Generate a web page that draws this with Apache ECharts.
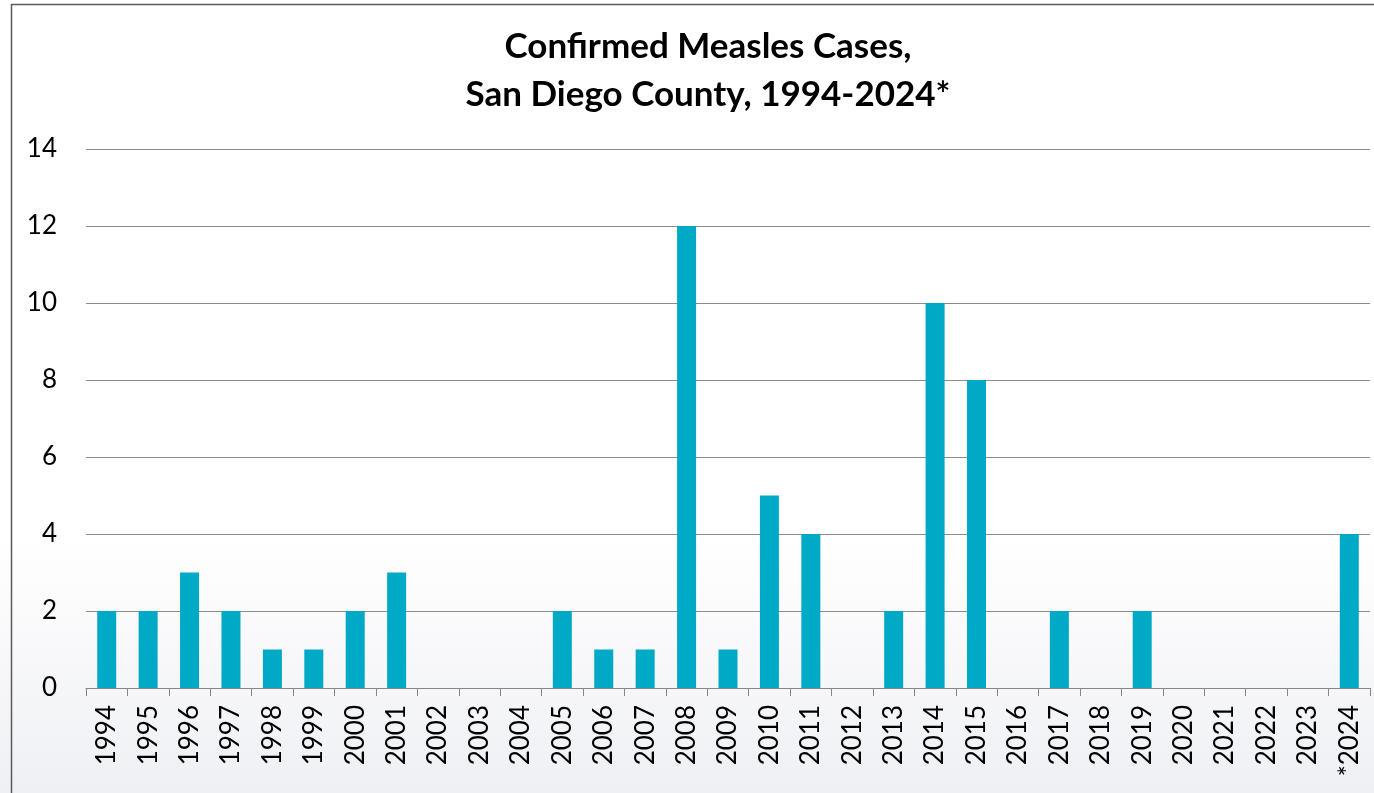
<!DOCTYPE html>
<html>
<head>
<meta charset="utf-8">
<script src="https://cdn.jsdelivr.net/npm/echarts@6/dist/echarts.min.js"></script>
<style>
html,body{margin:0;padding:0;background:#fff;}
#chart{width:1374px;height:793px;}
</style>
</head>
<body>
<div id="chart"></div>
<script>
const titleText = 'Confirmed Measles Cases,\nSan Diego County, 1994-2024*';
const years = ['1994','1995','1996','1997','1998','1999','2000','2001','2002','2003','2004','2005','2006','2007','2008','2009','2010','2011','2012','2013','2014','2015','2016','2017','2018','2019','2020','2021','2022','2023','*2024'];
const cases = [2,2,3,2,1,1,2,3,0,0,0,2,1,1,12,1,5,4,0,2,10,8,0,2,0,2,0,0,0,0,4];
const yTicks = {min:0, max:14, interval:2};

const chart = echarts.init(document.getElementById('chart'));
chart.setOption({
  animation:false,
  backgroundColor: new echarts.graphic.LinearGradient(0,0,0,1,[
    {offset:0,color:'#ffffff'},{offset:0.68,color:'#ffffff'},{offset:1,color:'#eff0f4'}
  ]),
  textStyle:{fontFamily:'Lato'},
  title:{
    text:titleText,
    left:703, top:18, textAlign:'center',
    textStyle:{fontFamily:'Lato',fontWeight:'bold',fontSize:35,lineHeight:48,color:'#000'}
  },
  graphic:[{
    type:'rect', silent:true, z:100,
    shape:{x:11.5,y:4.5,width:1420,height:900},
    style:{fill:'none',stroke:'#5a5a5a',lineWidth:1.5}
  }],
  grid:{left:86,right:4,top:149,bottom:105,containLabel:false},
  xAxis:{
    type:'category', data:years,
    axisLine:{lineStyle:{color:'#868686',width:1}},
    axisTick:{show:true,length:8,lineStyle:{color:'#868686'}},
    axisLabel:{rotate:90,margin:17,fontSize:26,color:'#000',fontFamily:'Lato',interval:0}
  },
  yAxis:{
    type:'value', min:yTicks.min, max:yTicks.max, interval:yTicks.interval,
    axisLine:{show:false}, axisTick:{show:false},
    splitLine:{lineStyle:{color:'#8c8c8c',width:1}},
    axisLabel:{margin:29,fontSize:26,color:'#000',fontFamily:'Lato'}
  },
  series:[{
    type:'bar', data:cases, barWidth:19,
    itemStyle:{color:'#00AAC6'}
  }]
});
</script>
</body>
</html>
